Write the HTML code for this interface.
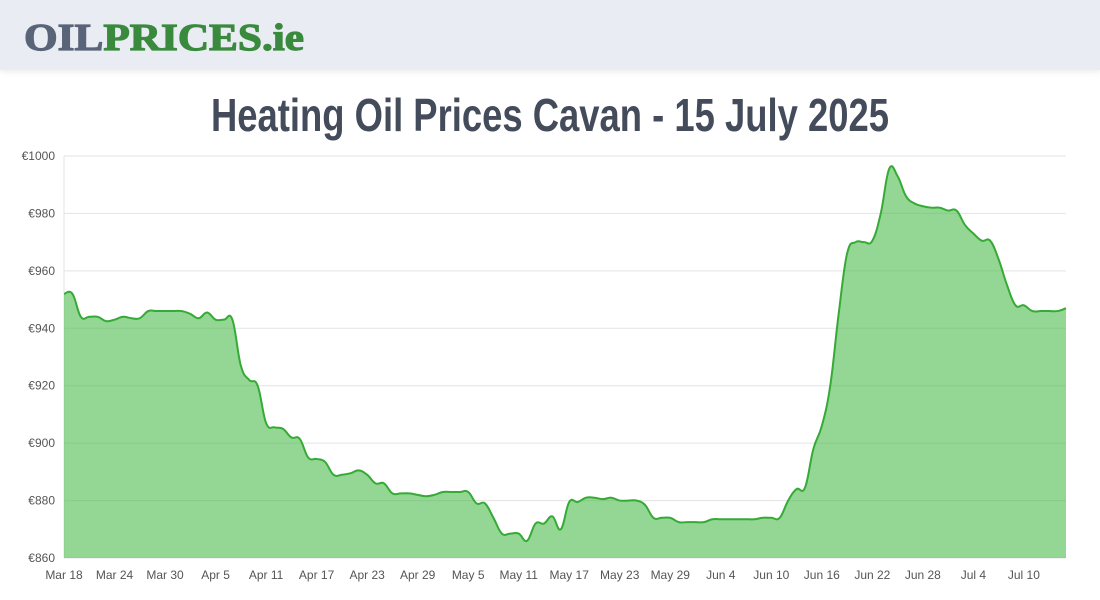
<!DOCTYPE html>
<html><head><meta charset="utf-8"><style>
body{margin:0;width:1100px;height:600px;background:#fff;overflow:hidden;font-family:"Liberation Sans",sans-serif}
#hdr{position:absolute;left:0;top:0;width:1100px;height:70px;background:#e9ecf3;box-shadow:0 2px 6px rgba(0,0,0,0.08)}
svg{position:absolute;left:0;top:0}
</style></head><body>
<div id="hdr"></div>
<svg width="1100" height="600" id="chart">
<text x="24" y="50" font-family="Liberation Serif,serif" font-weight="bold" font-size="38" textLength="280" lengthAdjust="spacingAndGlyphs" stroke-width="1.2"><tspan fill="#5a6478" stroke="#5a6478">OIL</tspan><tspan fill="#3a8a3e" stroke="#3a8a3e">PRICES.ie</tspan></text>
<text x="550" y="131" text-anchor="middle" font-family="Liberation Sans Narrow,Liberation Sans,sans-serif" font-weight="bold" font-size="46" fill="#444c5c" textLength="678" lengthAdjust="spacingAndGlyphs">Heating Oil Prices Cavan - 15 July 2025</text>
<g id="grid"></g><g id="plot"></g><g id="axes"></g>
</svg>
<script>
const startDate = [2025, 2, 18];
const prices = [952,952,944,944,944,942.5,943,944,943.5,943.5,946,946,946,946,946,945,943.5,945.5,943,943,943,927,922,920,907,905.5,905,902,901.5,895,894.5,893.5,889,889,889.5,890.5,889,886,886,882.5,882.5,882.5,882,881.5,882,883,883,883,883,879,879,874,868.5,868.5,868.5,866,872,872,874.5,870,879.5,879.5,881,881,880.5,881,880,880,880,878.5,874,874,874,872.5,872.5,872.5,872.5,873.5,873.5,873.5,873.5,873.5,873.5,874,874,874,880,884,884.5,898,906,920,945,966,970,970,970.5,980,995.5,993,986,983.5,982.5,982,982,981,981,976,973,970.5,970.5,964,955,948,948,946,946,946,946,947];
const yTicks = [860,880,900,920,940,960,980,1000];
const xTickLabels = ["Mar 18","Mar 24","Mar 30","Apr 5","Apr 11","Apr 17","Apr 23","Apr 29","May 5","May 11","May 17","May 23","May 29","Jun 4","Jun 10","Jun 16","Jun 22","Jun 28","Jul 4","Jul 10"];
const NS="http://www.w3.org/2000/svg";
const X0=64,X1=1066,Y0=558,Y1=156,VMIN=860,VMAX=1000;
const xs=i=>X0+(X1-X0)*i/(prices.length-1);
const ys=v=>Y0-(v-VMIN)/(VMAX-VMIN)*(Y0-Y1);
function mk(t,a,p){const e=document.createElementNS(NS,t);for(const k in a)e.setAttribute(k,a[k]);p.appendChild(e);return e;}
const grid=document.getElementById('grid'),axes=document.getElementById('axes'),plot=document.getElementById('plot');
yTicks.forEach(v=>{
 const l=mk('line',{x1:X0,x2:X1,y1:ys(v),y2:ys(v),stroke:'#e3e3e3','stroke-width':1},grid);
 
 
 const t=mk('text',{x:X0-9,y:ys(v)+4,'text-anchor':'end','font-size':12,fill:'#555'},axes);
 t.textContent='€'+v;
 
 
});
const ax=mk('line',{x1:X0,x2:X0,y1:Y1,y2:Y0,stroke:'#e3e3e3'},grid);


xTickLabels.forEach((s,k)=>{
 const t=mk('text',{x:xs(k*6),y:579,'text-anchor':'middle','font-size':12,fill:'#555'},axes);
 t.textContent=s;
 
 
});
const P=prices.map((v,i)=>[xs(i),ys(v)]);
let d='M'+P[0][0]+','+P[0][1];
for(let i=0;i<P.length-1;i++){
 const p0=P[Math.max(0,i-1)],p1=P[i],p2=P[i+1],p3=P[Math.min(P.length-1,i+2)];
 const t=0.2;
 d+=' C'+(p1[0]+(p2[0]-p0[0])*t)+','+(p1[1]+(p2[1]-p0[1])*t)+' '+(p2[0]-(p3[0]-p1[0])*t)+','+(p2[1]-(p3[1]-p1[1])*t)+' '+p2[0]+','+p2[1];
}
const area=mk('path',{d:d+' L'+X1+','+Y0+' L'+X0+','+Y0+' Z',fill:'rgba(76,187,76,0.6)'},plot);


const line=mk('path',{d:d,fill:'none',stroke:'#35aa35','stroke-width':2},plot);


</script>
</body></html>
